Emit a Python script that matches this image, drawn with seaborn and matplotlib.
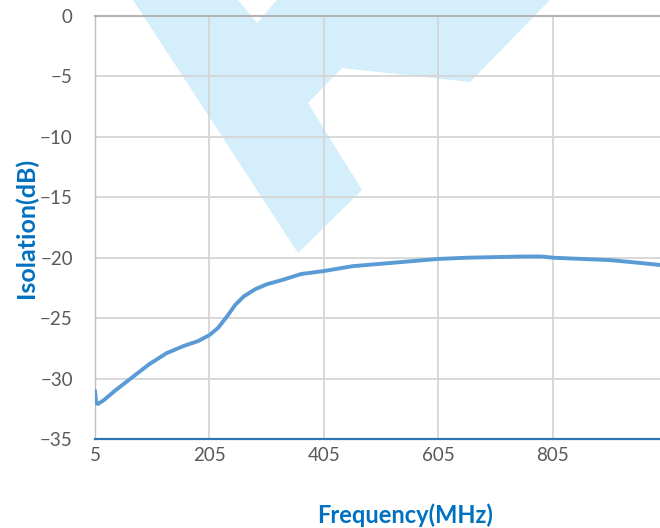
import pandas as pd
import matplotlib.pyplot as plt
import seaborn as sns
from matplotlib.patches import Polygon

# Isolation curve
freq_mhz = [5, 7, 10, 20, 40, 70, 100, 130, 160, 185, 205, 220, 235, 250, 265,
            285, 305, 335, 365, 405, 455, 505, 555, 605, 655, 705, 755, 785,
            805, 855, 905, 950, 992]
isolation_db = [-31.0, -32.0, -32.1, -31.8, -31.0, -29.9, -28.8, -27.9, -27.3,
                -26.9, -26.4, -25.8, -24.9, -23.9, -23.2, -22.6, -22.2, -21.8,
                -21.35, -21.1, -20.7, -20.5, -20.3, -20.1, -20.0, -19.95, -19.9,
                -19.9, -20.0, -20.1, -20.2, -20.4, -20.6]
x_ticks = [5, 205, 405, 605, 805]
y_ticks = [0, -5, -10, -15, -20, -25, -30, -35]

df = pd.DataFrame({'Frequency': freq_mhz, 'Isolation': isolation_db})

sns.set_theme(style="whitegrid")
plt.rcParams['font.family'] = ['Lato', 'DejaVu Sans']

fig = plt.figure(figsize=(6.6, 5.28), dpi=100)
fig.patch.set_facecolor('white')

# light blue logo watermark behind the plot (figure pixel coords)
W, H = 660, 528
logo_px = [(133, 0), (238, 0), (257, 23), (277, 0), (550, 0), (470, 82),
           (342, 68), (308, 103), (362, 190), (298, 253)]
logo = Polygon([(x / W, 1 - y / H) for x, y in logo_px], closed=True,
               transform=fig.transFigure, facecolor='#d4eefc', edgecolor='none',
               zorder=-1)
fig.patches.append(logo)

ax = fig.add_axes([95 / W, 1 - 439 / H, 1 - 95 / W, 423 / H])
ax.set_facecolor('none')

sns.lineplot(data=df, x='Frequency', y='Isolation', ax=ax, color='#5b9bd5',
             linewidth=2.8, zorder=3)

ax.set_xlim(5, 992)
ax.set_ylim(-35, 0)
ax.set_xticks(x_ticks)
ax.set_yticks(y_ticks)
ax.grid(True, color='#d6d6d6', linewidth=1.3)

ax.spines['right'].set_visible(False)
ax.spines['top'].set_color('#b4b4b4')
ax.spines['top'].set_linewidth(1.5)
ax.spines['left'].set_color('#bfbfbf')
ax.spines['left'].set_linewidth(1.0)
ax.spines['bottom'].set_color('#2e75b6')
ax.spines['bottom'].set_linewidth(1.6)

ax.tick_params(axis='y', length=0, pad=16, labelsize=13.5, labelcolor='#595959')
ax.tick_params(axis='x', length=0, pad=6, labelsize=13.5, labelcolor='#595959')

ax.set_xlabel('Frequency(MHz)', fontsize=17, fontweight='bold', color='#0070c0')
ax.set_ylabel('Isolation(dB)', fontsize=18, fontweight='bold', color='#0070c0')
ax.xaxis.set_label_coords(0.5487, -0.181)
ax.yaxis.set_label_coords(-0.122, 0.5)
ax.xaxis.label.set_va('center')
ax.yaxis.label.set_va('center')

plt.savefig('out.png', dpi=100)
